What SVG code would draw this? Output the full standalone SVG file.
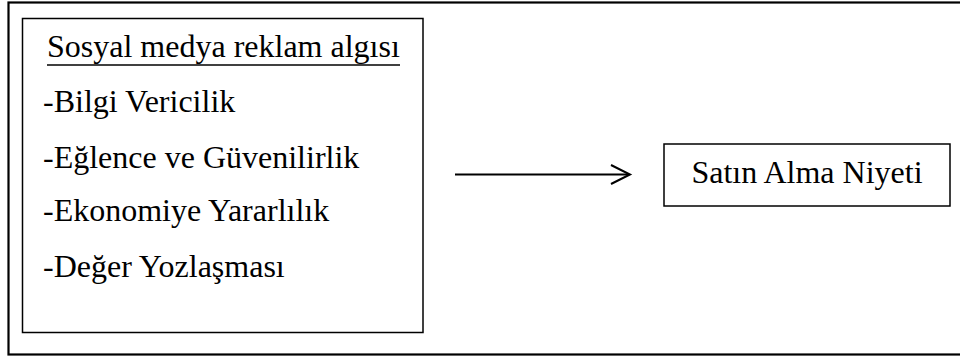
<svg xmlns="http://www.w3.org/2000/svg" width="960" height="358" viewBox="0 0 960 358">
<style>
.t{font-family:"Liberation Serif","Times New Roman",serif;font-size:32px;fill:#000}
.box{fill:none;stroke:#000;stroke-width:1.5}
.conn{stroke:#000;stroke-width:2;fill:none}
</style>
<rect x="0" y="0" width="960" height="358" fill="#fff"/>
<rect x="8.5" y="2.5" width="960" height="352" fill="none" stroke="#000" stroke-width="2.2"/>
<g id="node-sosyal">
<rect class="box" x="22.5" y="18.5" width="400.5" height="314"/>
<text class="t" x="47" y="57">Sosyal medya reklam algısı</text>
<line x1="47" y1="65" x2="400" y2="65" stroke="#000" stroke-width="1.5"/>
<text class="t" x="43" y="112">-Bilgi Vericilik</text>
<text class="t" x="43" y="168">-Eğlence ve Güvenilirlik</text>
<text class="t" x="43" y="221">-Ekonomiye Yararlılık</text>
<text class="t" x="43" y="277">-Değer Yozlaşması</text>
</g>
<g id="node-satin">
<rect class="box" x="664" y="144" width="286" height="62"/>
<text class="t" x="807" y="183" text-anchor="middle">Satın Alma Niyeti</text>
</g>
<g id="connectors">
<line class="conn" x1="455" y1="174.5" x2="629" y2="174.5"/>
<polyline class="conn" points="611,165 630,174.5 611,184"/>
</g>
</svg>
